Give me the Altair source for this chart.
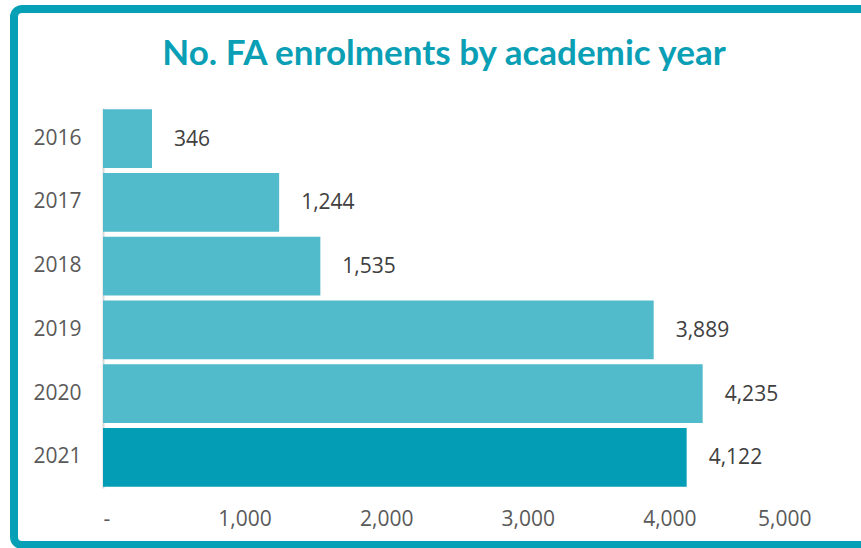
import altair as alt
import pandas as pd

years = ["2016", "2017", "2018", "2019", "2020", "2021"]
enrolments = [346, 1244, 1535, 3889, 4235, 4122]
highlight = [False, False, False, False, False, True]

df = pd.DataFrame({"year": years, "value": enrolments, "hl": highlight})

W, H = 708, 380
LEFT, TOP = 103, 108
FS = 21

base = alt.Chart(df)

bars = base.mark_bar().encode(
    y=alt.Y("year:N", sort=years,
            scale=alt.Scale(paddingInner=0.08, paddingOuter=0.02),
            axis=alt.Axis(title=None, labelFontSize=FS, labelColor="#595959",
                          labelPadding=22, ticks=False, domainColor="#D9D9D9",
                          domainWidth=2, labelFont="Open Sans")),
    x=alt.X("value:Q", scale=alt.Scale(domain=[0, 5000]),
            axis=alt.Axis(title=None, values=[0, 1000, 2000, 3000, 4000, 5000],
                          labelExpr="datum.value == 0 ? '-' : format(datum.value, ',')",
                          labelFontSize=FS, labelColor="#595959", labelPadding=20,
                          ticks=False, domain=False, grid=False, labelFont="Open Sans")),
    color=alt.Color("hl:N", scale=alt.Scale(domain=[False, True], range=["#51BBCB", "#039EB5"]),
                    legend=None),
)

labels = base.mark_text(align="left", baseline="middle", dx=22, dy=1, fontSize=FS,
                        color="#404040", font="Open Sans").encode(
    y=alt.Y("year:N", sort=years),
    x="value:Q",
    text=alt.Text("value:Q", format=","),
)

title = alt.Chart(pd.DataFrame({"t": ["No. FA enrolments by academic year"]})).mark_text(
    align="center", baseline="alphabetic", fontSize=35, fontWeight="bold",
    color="#0A9FB5", font="Lato"
).encode(text="t:N", x=alt.value(444 - LEFT), y=alt.value(65 - TOP))

border = alt.Chart(pd.DataFrame({"a": [0]})).mark_rect(
    fill=None, stroke="#05A0B5", strokeWidth=8, cornerRadius=8, clip=False
).encode(x=alt.value(14 - LEFT), x2=alt.value(875 - LEFT),
         y=alt.value(9 - TOP), y2=alt.value(545 - TOP))

chart = alt.layer(border, bars, labels, title).properties(
    width=W, height=H,
    autosize=alt.AutoSizeParams(type="none"),
    padding={"left": LEFT, "top": TOP, "right": 861 - LEFT - W, "bottom": 548 - TOP - H},
    background="white",
).configure_view(stroke=None)

chart.save("out.html", embed_options={"renderer": "svg", "actions": False})
